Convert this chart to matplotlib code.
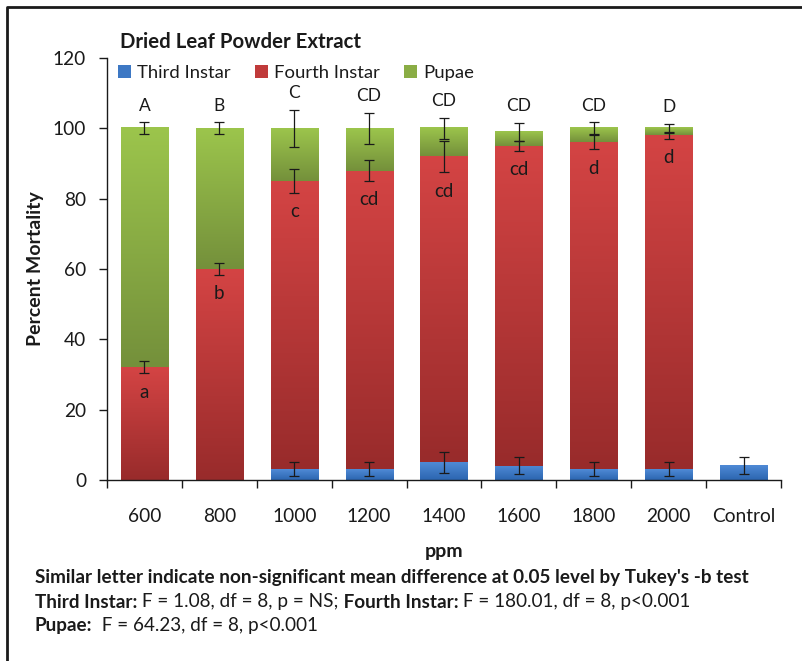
import numpy as np
import matplotlib
matplotlib.use("Agg")
import matplotlib.pyplot as plt
from matplotlib.colors import LinearSegmentedColormap
from matplotlib.patches import Patch
from matplotlib.lines import Line2D

plt.rcParams['font.family'] = ['Lato', 'DejaVu Sans']

categories = ['600', '800', '1000', '1200', '1400', '1600', '1800', '2000', 'Control']
third = [0, 0, 3, 3, 5, 4, 3, 3, 4]
fourth = [32, 60, 82, 85, 87, 91, 93, 95, 0]
pupae = [68, 40, 15, 12, 8, 4, 4, 2, 0]
third_err = [0, 0, 2, 2, 3, 2.4, 2, 2, 2.4]
fourth_err = [1.7, 1.6, 3.4, 3, 4.5, 1.5, 2, 1, 0]
pupae_err = [1.7, 1.7, 5.3, 4.4, 3, 2.6, 1.7, 1.2, 0]
upper_letters = ['A', 'B', 'C', 'CD', 'CD', 'CD', 'CD', 'D', '']
lower_letters = ['a', 'b', 'c', 'cd', 'cd', 'cd', 'd', 'd', '']
yticks = [0, 20, 40, 60, 80, 100, 120]

TXT = '#1a1a1a'
cols = {
    'Third Instar': ('#4f8ad6', '#2c66b0', '#3d78c4'),
    'Fourth Instar': ('#d44444', '#982b2b', '#c03a3a'),
    'Pupae': ('#9cc54c', '#74903b', '#8aad45'),
}

fig = plt.figure(figsize=(8.02, 6.61), dpi=100)
W, H = 802, 661
ax = fig.add_axes([107 / W, 181 / H, 674 / W, 422 / H])

x = np.arange(len(categories))
third_a = np.array(third, float)
fourth_a = np.array(fourth, float)
pupae_a = np.array(pupae, float)
bw = 0.63

b1 = ax.bar(x, third_a, bw, color=cols['Third Instar'][2], zorder=2)
b2 = ax.bar(x, fourth_a, bw, bottom=third_a, color=cols['Fourth Instar'][2], zorder=2)
b3 = ax.bar(x, pupae_a, bw, bottom=third_a + fourth_a, color=cols['Pupae'][2], zorder=2)


def grad_fill(patches, top_c, bot_c):
    cmap = LinearSegmentedColormap.from_list('g', [bot_c, top_c])
    for p in patches:
        h = p.get_height()
        if h <= 0:
            continue
        x0, y0, w = p.get_x(), p.get_y(), p.get_width()
        ax.imshow(np.linspace(0, 1, 256).reshape(-1, 1), extent=[x0, x0 + w, y0, y0 + h],
                  origin='lower', cmap=cmap, aspect='auto', zorder=2.5,
                  interpolation='bilinear')


grad_fill(b1, cols['Third Instar'][0], cols['Third Instar'][1])
grad_fill(b2, cols['Fourth Instar'][0], cols['Fourth Instar'][1])
grad_fill(b3, cols['Pupae'][0], cols['Pupae'][1])

ekw = dict(fmt='none', ecolor=TXT, elinewidth=0.9, capsize=3.3, capthick=0.9, zorder=5)
te = np.array(third_err)
fe = np.array(fourth_err)
pe = np.array(pupae_err)
m = te > 0
ax.errorbar(x[m], third_a[m], yerr=te[m], **ekw)
m = fe > 0
ax.errorbar(x[m], (third_a + fourth_a)[m], yerr=fe[m], **ekw)
m = pe > 0
ax.errorbar(x[m], (third_a + fourth_a + pupae_a)[m], yerr=pe[m], **ekw)

tot = third_a + fourth_a + pupae_a
for i in range(len(categories)):
    if upper_letters[i]:
        ax.annotate(upper_letters[i], (x[i], tot[i] + pe[i]), xytext=(0, 12),
                    textcoords='offset points', ha='center', va='center',
                    fontsize=12.5, color=TXT, zorder=6)
    if lower_letters[i]:
        ax.annotate(lower_letters[i], (x[i], third_a[i] + fourth_a[i] - fe[i]), xytext=(0, -13.5),
                    textcoords='offset points', ha='center', va='center',
                    fontsize=13.5, color=TXT, zorder=6)

ax.set_xlim(-0.5, len(categories) - 0.5)
ax.set_ylim(0, 120)
ax.set_yticks(yticks)
ax.set_xticks(x)
ax.set_xticklabels(categories)
ax.set_xticks(np.arange(len(categories) + 1) - 0.5, minor=True)
ax.tick_params(axis='x', which='major', length=0, pad=20, labelsize=13.8, labelcolor=TXT)
ax.tick_params(axis='x', which='minor', length=5.5, width=1.0, direction='out', color=TXT)
ax.tick_params(axis='y', length=6, width=1.0, direction='out', pad=9, labelsize=13.8,
               labelcolor=TXT, color=TXT)
for s in ['top', 'right']:
    ax.spines[s].set_visible(False)
for s in ['left', 'bottom']:
    ax.spines[s].set_linewidth(1.0)
    ax.spines[s].set_color(TXT)

ax.set_ylabel('Percent Mortality', fontsize=14, fontweight='bold', color=TXT, labelpad=6)
ax.set_xlabel('ppm', fontsize=14, fontweight='bold', color=TXT, labelpad=13)

fig.text(120 / W, 1 - 42 / H, 'Dried Leaf Powder Extract', fontsize=14.7, fontweight='bold',
         color=TXT, ha='left', va='center')

handles = [Patch(facecolor=cols[k][2], edgecolor='none') for k in cols]
fig.legend(handles, list(cols.keys()), loc='center left', bbox_to_anchor=(118 / W, 1 - 73 / H),
           ncol=3, frameon=False, fontsize=13.3, handlelength=0.7, handleheight=0.7,
           handletextpad=0.35, columnspacing=1.3, labelcolor=TXT, borderaxespad=0, borderpad=0)

renderer = fig.canvas.get_renderer()


def rich(x0, y0, parts, size):
    xx = x0
    for txt, bold in parts:
        t = fig.text(xx, y0, txt, fontsize=size, fontweight='bold' if bold else 'normal',
                     color=TXT, ha='left', va='center')
        bb = t.get_window_extent(renderer=renderer)
        xx += bb.width / fig.bbox.width


FS = 13.6
rich(35 / W, 1 - 578 / H,
     [("Similar letter indicate non-significant mean difference at 0.05 level by Tukey's -b test", True)], FS)
rich(35 / W, 1 - 602 / H,
     [("Third Instar:", True), (" F = 1.08, df = 8, p = NS;", False), (" Fourth Instar:", True),
      (" F = 180.01, df = 8, p<0.001", False)], FS)
rich(35 / W, 1 - 625 / H,
     [("Pupae:", True), ("  F = 64.23, df = 8, p<0.001", False)], FS)

fig.add_artist(Line2D([7 / W, 7 / W, 1.0], [0, 1 - 7 / H, 1 - 7 / H], transform=fig.transFigure,
                      color=TXT, linewidth=2))

fig.savefig('out.png', dpi=100)
